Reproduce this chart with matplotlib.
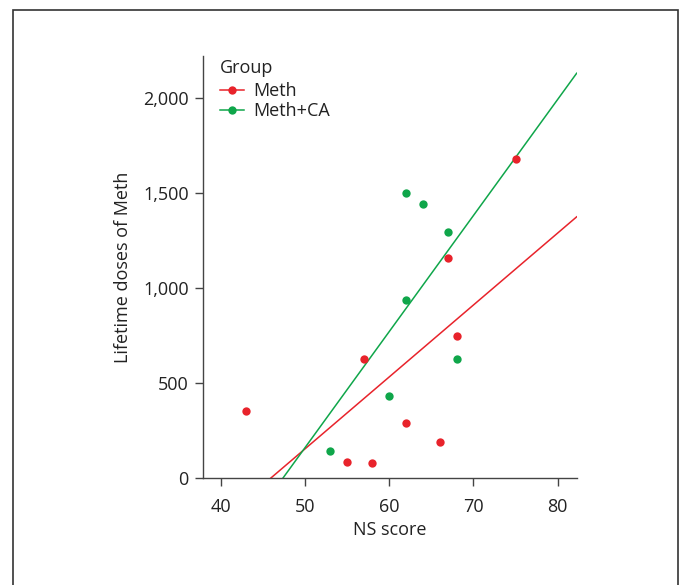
import numpy as np
import matplotlib
matplotlib.use("Agg")
import matplotlib.pyplot as plt
from matplotlib.ticker import StrMethodFormatter
from matplotlib.patches import Rectangle

plt.rcParams['font.family'] = ['Open Sans', 'DejaVu Sans']

# data
meth_x = [43, 55, 57, 58, 62, 66, 67, 68, 75]
meth_y = [354, 87, 626, 79, 289, 191, 1158, 751, 1680]
ca_x = [53, 60, 62, 62, 64, 67, 68]
ca_y = [145, 433, 937, 1500, 1442, 1296, 626]

groups = ["Meth", "Meth+CA"]
colors = ["#e8232b", "#0fa64a"]
x_ticks = [40, 50, 60, 70, 80]
y_ticks = [0, 500, 1000, 1500, 2000]

fig = plt.figure(figsize=(6.81, 5.85), dpi=100)
fig.patches.append(Rectangle((13 / 681, -0.1), 665 / 681, 1.1 - 10 / 585,
                             transform=fig.transFigure, fill=False,
                             edgecolor="#333333", linewidth=1.2))
ax = fig.add_axes([0.2977, 0.1824, 0.5491, 0.7219])

xlim = (37.86, 82.26)
xs = np.array(xlim)
for gx, gy, name, c in [(meth_x, meth_y, groups[0], colors[0]),
                        (ca_x, ca_y, groups[1], colors[1])]:
    # least squares line for each group
    slope, icpt = np.polyfit(gx, gy, 1)
    ax.plot(xs, slope * xs + icpt, color=c, linewidth=1.1, zorder=2)
    ax.plot(gx, gy, 'o', color=c, markersize=6, markeredgewidth=0, zorder=3)
    ax.plot([], [], '-o', color=c, linewidth=1.1, markersize=6,
            markeredgewidth=0, label=name)

ax.set_xlim(*xlim)
ax.set_ylim(0, 2222)
ax.set_xticks(x_ticks)
ax.set_yticks(y_ticks)
ax.yaxis.set_major_formatter(StrMethodFormatter('{x:,.0f}'))

for s in ["top", "right"]:
    ax.spines[s].set_visible(False)
for s in ["left", "bottom"]:
    ax.spines[s].set_color("#444444")
    ax.spines[s].set_linewidth(1.0)
ax.tick_params(length=6, width=1.0, color="#444444", labelsize=13,
               labelcolor="#222222", pad=4)
ax.tick_params(axis="x", pad=8)

ax.set_xlabel("NS score", fontsize=13, color="#222222", labelpad=4)
ax.set_ylabel("Lifetime doses of Meth", fontsize=13, color="#222222", labelpad=8)

leg = ax.legend(title="Group", loc="upper left", bbox_to_anchor=(0.047, 0.994),
                frameon=False, fontsize=13, title_fontsize=13, alignment="left",
                handlelength=1.3, handletextpad=0.5, labelspacing=0.1,
                borderaxespad=0, borderpad=0)
leg._legend_box.sep = 4
for t in leg.get_texts():
    t.set_color("#222222")
leg.get_title().set_color("#222222")

fig.savefig("out.png", dpi=100)
